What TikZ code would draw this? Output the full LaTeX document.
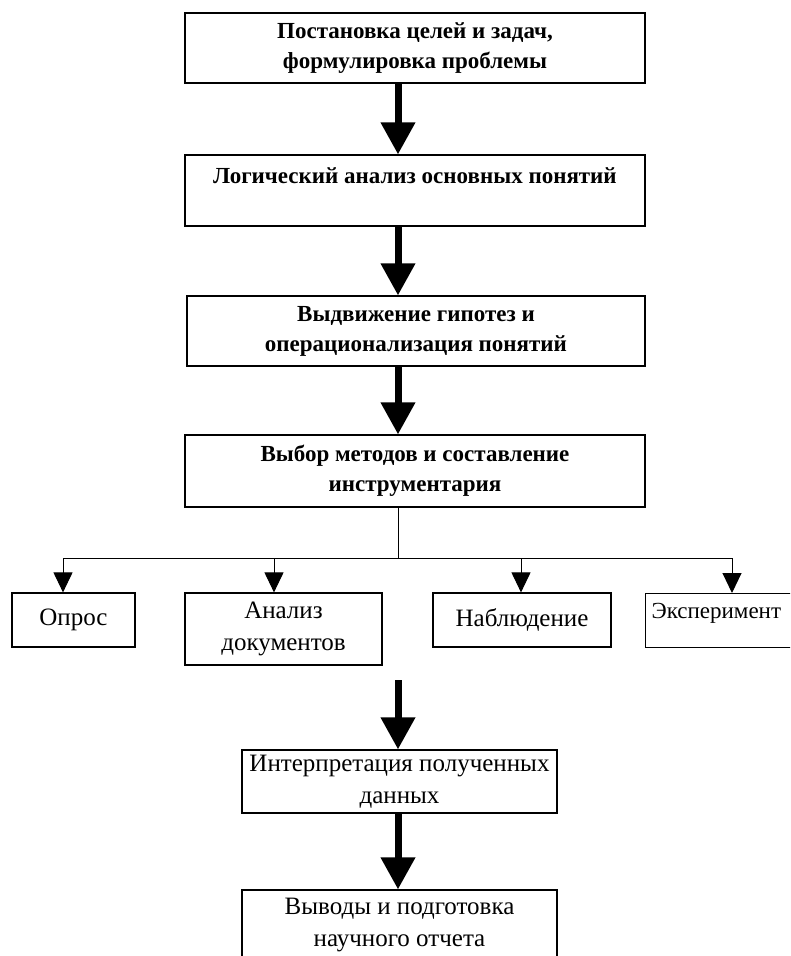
\documentclass[tikz,border=0pt]{standalone}
\usepackage{fontspec}
\setmainfont{Liberation Serif}
\usetikzlibrary{arrows.meta}

\begin{document}
\begin{tikzpicture}[
                      x = 1pt,
                      y = -1pt,
           stage/.style = {draw, line width=1.2pt, align=center, inner sep=0pt,
                           font=\fontsize{23}{30}\selectfont\bfseries},
          method/.style = {draw, line width=1.2pt, align=center, inner sep=0pt,
                           font=\fontsize{25}{32}\selectfont},
        bigarrow/.style = {line width=7pt, -{Triangle[width=33pt,length=32pt]}},
      smallarrow/.style = {line width=1pt, -{Triangle[width=19pt,length=20pt]}},
                     ]
\useasboundingbox (0,0) rectangle (790,956);
\clip (0,0) rectangle (790,956);

% main chain
\node[stage, minimum width=460pt, minimum height=70pt] (goals) at (415,48)
    {Постановка целей и задач,\\ формулировка проблемы};
\node[stage, minimum width=460pt, minimum height=71pt] (logic) at (415,190.5)
    {Логический анализ основных понятий\\ \mbox{}};
\node[stage, minimum width=458pt, minimum height=70pt] (hypo) at (416,331)
    {Выдвижение гипотез и\\ операционализация понятий};
\node[stage, minimum width=460pt, minimum height=72pt] (tools) at (415,471)
    {Выбор методов и составление\\ инструментария};

% methods
\node[method, minimum width=123pt, minimum height=54pt] (survey) at (73.5,620) {Опрос};
\node[method, minimum width=197pt, minimum height=72pt] (docs) at (283.5,629)
    {Анализ\\ документов};
\node[method, minimum width=178pt, minimum height=54pt] (observ) at (522,620) {Наблюдение};
\node[method, anchor=north west, align=left, inner xsep=6pt, text width=188pt,
      font=\fontsize{23}{30}\selectfont,
      minimum height=54pt, text height=25pt, text depth=29pt] (experim) at (645,593)
    {Эксперимент};

% final stages
\node[method, minimum width=315pt, minimum height=63pt] (interp) at (399.5,781.5)
    {Интерпретация полученных\\ данных};
\node[method, minimum width=315pt, minimum height=70pt] (report) at (399.5,925)
    {Выводы и подготовка\\ научного отчета};

\coordinate (axis)   at (398,0);
\coordinate (split)  at (398,558);
\coordinate (b1)     at (63,558);
\coordinate (b2)     at (274,558);
\coordinate (b3)     at (521,558);
\coordinate (b4)     at (732,558);
\coordinate (resume) at (398,680);

\draw[bigarrow] (goals.south -| axis) -- (logic.north -| axis);
\draw[bigarrow] (logic.south -| axis) -- (hypo.north -| axis);
\draw[bigarrow] (hypo.south -| axis) -- (tools.north -| axis);
\draw[line width=1pt] (tools.south -| axis) -- (split);
\draw[line width=1pt] (b1) -- (b4);
\foreach \b/\m in {b1/survey, b2/docs, b3/observ, b4/experim}
    \draw[smallarrow] (\b) -- (\b |- \m.north);
\draw[bigarrow] (resume) -- (interp.north -| axis);
\draw[bigarrow] (interp.south -| axis) -- (report.north -| axis);
\end{tikzpicture}
\end{document}
